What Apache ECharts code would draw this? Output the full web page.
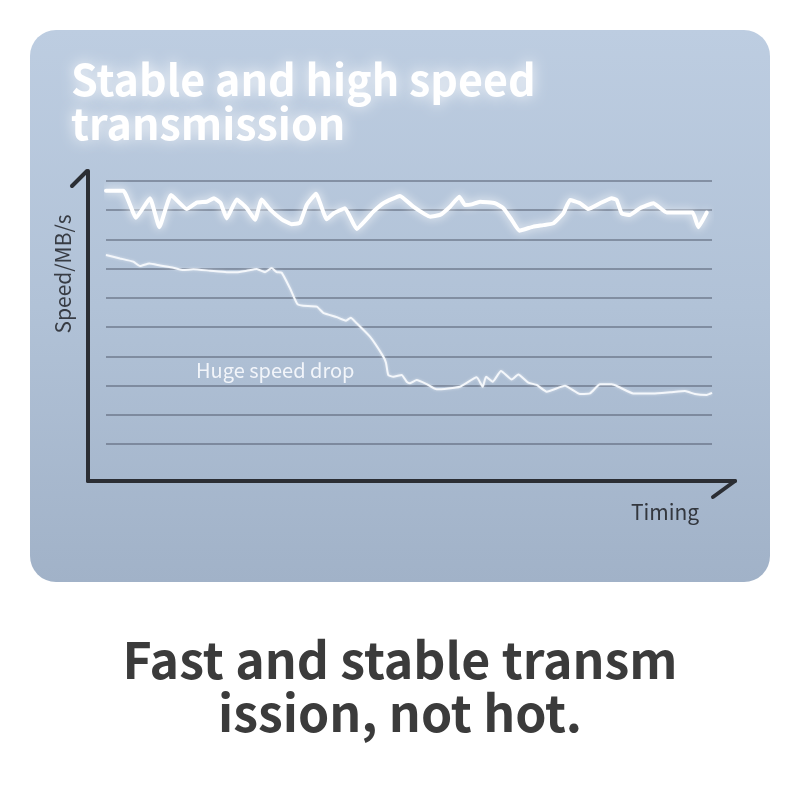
<!DOCTYPE html>
<html>
<head>
<meta charset="utf-8">
<script src="https://cdn.jsdelivr.net/npm/echarts@6/dist/echarts.min.js"></script>
<style>
html,body{margin:0;padding:0;background:#fff;}
#c{width:800px;height:800px;}
</style>
</head>
<body>
<div id="c"></div>
<script>
// Timing positions (0-100) and speed values (gridline units, top line = 10)
var stableX = [0,2.85,4.95,7.26,8.80,10.73,13.32,14.97,16.62,17.82,18.93,19.92,21.57,23.22,24.59,25.69,27.06,28.99,30.64,32.01,33.12,34.65,36.42,37.51,39.44,41.37,44.11,45.76,48.51,50.71,53.47,55.12,56.77,58.30,59.24,60.35,61.72,64.19,65.56,66.95,68.20,70.51,72.16,73.81,75.46,76.57,78.22,79.59,81.52,83.45,84.27,85.10,86.47,88.12,90.31,92.53,95.26,96.82,97.74,99.13];
var stableY = [9.67,9.67,8.74,9.41,8.42,9.52,9.04,9.26,9.29,9.41,9.24,8.72,9.37,9.07,8.67,9.37,9.03,8.69,8.52,8.57,9.18,9.56,8.69,8.89,9.07,8.36,8.95,9.24,9.49,9.12,8.78,8.84,9.12,9.46,9.18,9.20,9.29,9.24,9.07,8.67,8.30,8.44,8.49,8.55,8.89,9.35,9.24,9.04,9.24,9.41,9.35,8.89,8.84,9.07,9.24,8.92,8.92,8.92,8.42,8.92];
var dropX = [0,2.31,4.50,5.61,7.15,8.91,11.11,12.76,14.41,17.16,19.92,21.57,23.22,24.87,26.24,27.34,28.17,28.99,30.36,31.57,32.56,34.77,35.86,38.07,39.60,40.38,41.37,43.56,45.76,46.20,46.58,47.41,48.79,49.62,50.17,51.27,52.92,54.57,58.42,61.17,62.16,62.71,63.81,65.18,66.95,68.04,69.69,71.07,72.72,75.74,78.22,79.87,81.52,83.45,84.54,87.01,90.31,93.07,95.54,97.19,99.12,100];
var dropY = [7.47,7.35,7.24,7.09,7.18,7.11,7.03,6.95,6.98,6.93,6.88,6.88,6.93,6.99,6.88,7.02,6.88,6.86,6.33,5.79,5.73,5.70,5.49,5.34,5.22,5.32,5.13,4.67,3.99,3.78,3.36,3.30,3.36,3.13,3.08,3.19,3.05,2.87,2.96,3.28,2.96,3.30,3.13,3.50,3.21,3.38,3.10,3.02,2.79,2.99,2.71,2.73,3.04,3.04,2.96,2.73,2.73,2.77,2.81,2.71,2.68,2.75];
var titleTop = 'Stable and high speed\ntransmission';
var titleBottom = 'Fast and stable transm\nission, not hot.';
var yName = 'Speed/MB/s';
var xName = 'Timing';
var noteText = 'Huge speed drop';

function pairs(xs, ys){ return xs.map(function(x,i){ return [x, ys[i]]; }); }

var FONT = '"Noto Sans CJK SC", "Noto Sans", sans-serif';
var chart = echarts.init(document.getElementById('c'), null, {renderer:'canvas'});
chart.setOption({
  backgroundColor: '#ffffff',
  animation: false,
  title: [
    { text: titleTop, left: 66, top: 53,
      textStyle: { color:'#ffffff', fontFamily:FONT, fontWeight:'bold', fontSize:43, lineHeight:44,
        textShadowColor:'rgba(255,255,255,0.9)', textShadowBlur:14 } }
  ],
  graphic: [
    { type:'rect', z:-10, silent:true, shape:{x:30,y:30,width:740,height:552,r:26},
      style:{ fill: new echarts.graphic.LinearGradient(0,0,0,1,[
        {offset:0,color:'#bdcde1'},{offset:0.5,color:'#b1c2d7'},{offset:1,color:'#a1b2c8'}]) } },
    { type:'line', z:10, shape:{x1:87,y1:171,x2:72,y2:186},
      style:{ stroke:'#2b2e34', lineWidth:4, lineCap:'round' } },
    { type:'line', z:10, shape:{x1:735,y1:481,x2:713,y2:497},
      style:{ stroke:'#2b2e34', lineWidth:4, lineCap:'round' } },
    { type:'text', z:10, x:196, y:370,
      style:{ text:noteText, fill:'#f2f5fa', fontFamily:FONT, fontSize:20, textVerticalAlign:'middle', verticalAlign:'middle' } },
    { type:'text', z:10, x:63, y:274, rotation:Math.PI/2,
      style:{ text:yName, fill:'#383c44', fontFamily:FONT, fontSize:21, align:'center', verticalAlign:'middle', textAlign:'center', textVerticalAlign:'middle' } },
    { type:'text', z:10, x:400, y:686,
      style:{ text:titleBottom, fill:'#3b3b3b', fontFamily:FONT, fontWeight:'bold', fontSize:50, lineHeight:53,
        align:'center', verticalAlign:'middle', textAlign:'center', textVerticalAlign:'middle' } }
  ],
  grid: [
    { left:88, right:65, top:171, bottom:319 },
    { left:106, right:88, top:181, bottom:326.8 }
  ],
  xAxis: [
    { type:'value', gridIndex:0, min:0, max:100,
      axisLine:{ show:true, onZero:false, lineStyle:{ color:'#2b2e34', width:4, cap:'round' } },
      axisTick:{show:false}, axisLabel:{show:false}, splitLine:{show:false},
      name:xName, nameLocation:'end', nameGap:-70,
      nameTextStyle:{ color:'#33373e', fontFamily:FONT, fontSize:21, align:'center', verticalAlign:'top', padding:[21,0,0,0] } },
    { type:'value', gridIndex:1, min:0, max:100, show:false }
  ],
  yAxis: [
    { type:'value', gridIndex:0, min:0, max:100,
      axisLine:{ show:true, onZero:false, lineStyle:{ color:'#2b2e34', width:4, cap:'round' } },
      axisTick:{show:false}, axisLabel:{show:false}, splitLine:{show:false} },
    { type:'value', gridIndex:1, min:0, max:10, interval:1,
      axisLine:{show:false}, axisTick:{show:false}, axisLabel:{show:false},
      splitLine:{ show:true, showMinLine:false, showMaxLine:true, lineStyle:{ color:'rgba(78,88,104,0.65)', width:1.5 } } }
  ],
  series: [
    { type:'line', xAxisIndex:1, yAxisIndex:1, data:pairs(dropX, dropY), symbol:'none', smooth:0.15,
      lineStyle:{ color:'#f4f7fb', width:2, shadowColor:'rgba(255,255,255,0.5)', shadowBlur:3 } },
    { type:'line', xAxisIndex:1, yAxisIndex:1, data:pairs(stableX, stableY), symbol:'none', smooth:0.12,
      lineStyle:{ color:'#ffffff', width:4, join:'round', cap:'round', shadowColor:'rgba(255,255,255,0.95)', shadowBlur:10 } }
  ]
});
</script>
</body>
</html>
